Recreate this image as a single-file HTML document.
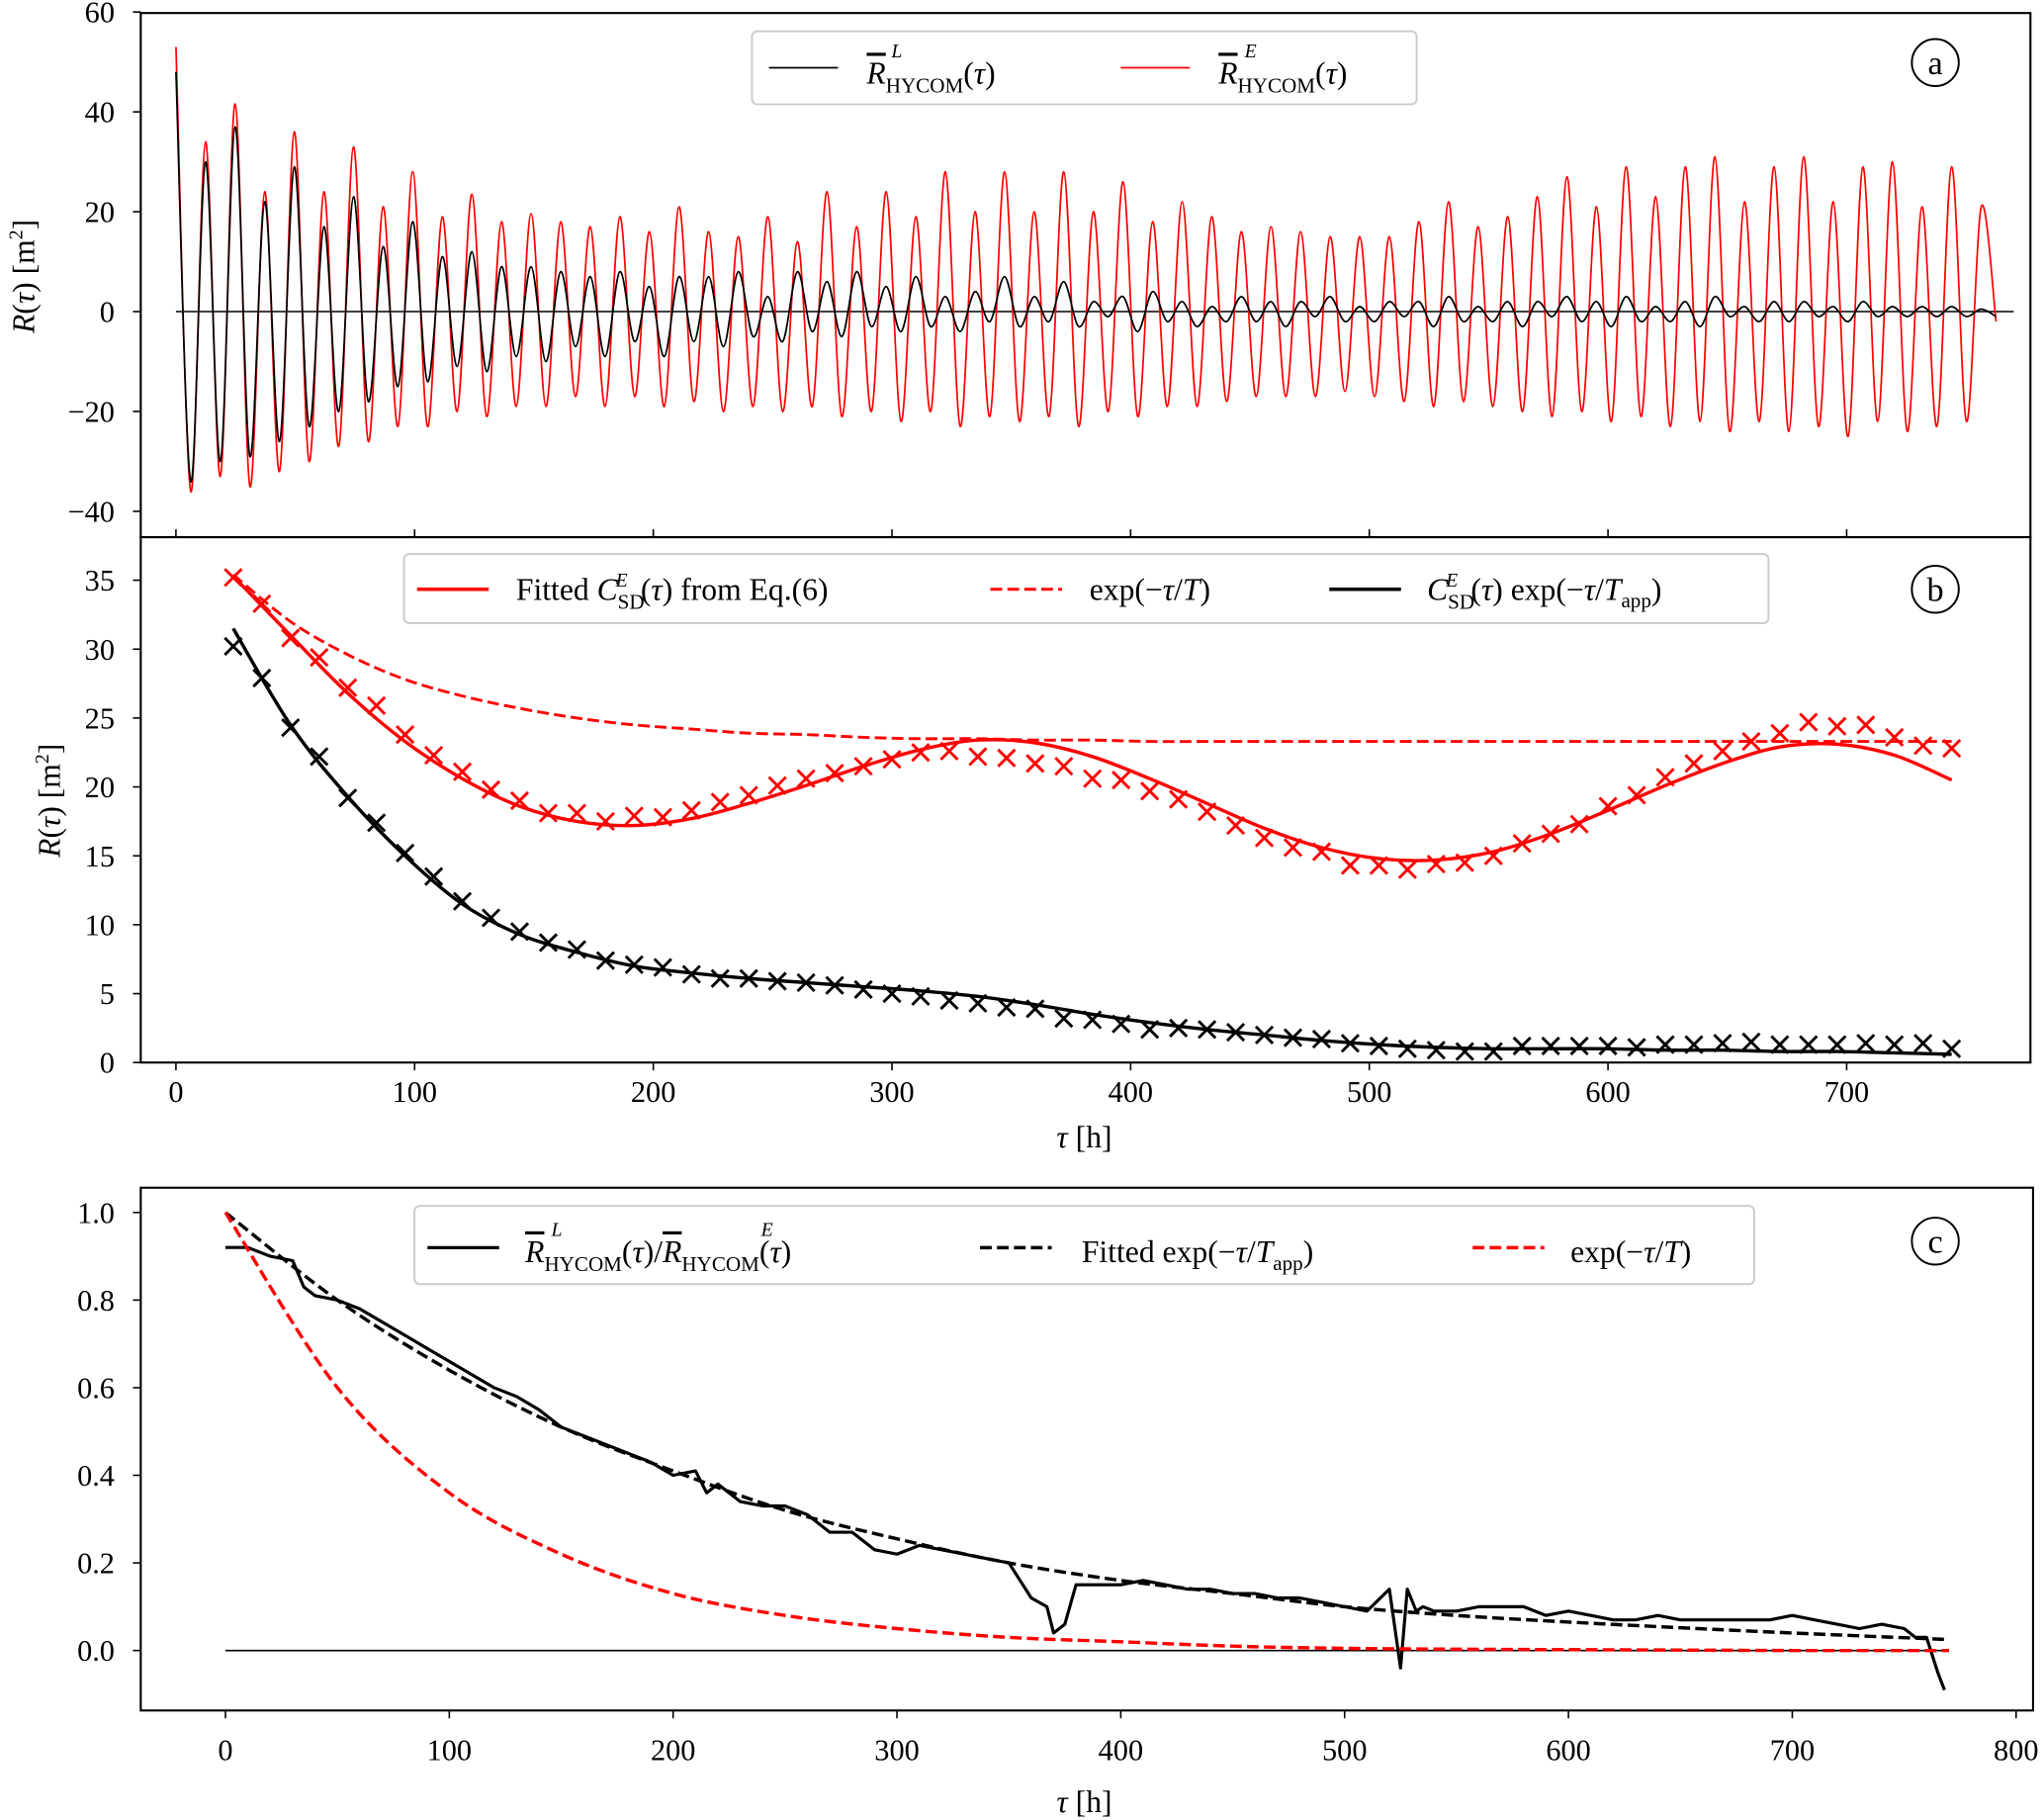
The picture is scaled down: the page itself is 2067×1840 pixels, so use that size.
<!DOCTYPE html>
<html><head><meta charset="utf-8"><style>
html,body{margin:0;padding:0;background:#fff;}
svg{display:block;}
text{font-family:"Liberation Serif",serif;fill:#000;}
</style></head><body>
<svg id="fig" width="2067" height="1840" viewBox="0 0 1568.4 1396" preserveAspectRatio="none" xmlns="http://www.w3.org/2000/svg"></svg>
<script>
// ---- Panel (a) data: alternating peak/trough values every half tidal period ----
const halfPeriod = 6.2;
const redPeaks = [53,34,41.6,24,36,24,33,21,28,19,23.5,18,19.6,18,17,19,16,21,16,15,19,14,24,17,24,19,28,20,28,20,28,20,26,18,22,19,16,17,16,15,15,15,18,22,17,19,23,27,21,29,23,29,31,22,29,31,22,29,30,21,29,21];
const redTroughs = [-36,-33,-35,-32,-30,-27,-26,-23,-23,-20,-21,-19,-19,-17,-19,-17,-19,-18,-20,-19,-20,-19,-21,-20,-22,-20,-23,-21,-22,-21,-23,-20,-21,-19,-19,-18,-17,-17,-17,-16,-17,-18,-19,-18,-19,-20,-21,-20,-22,-21,-23,-22,-24,-22,-24,-23,-25,-22,-24,-23,-22,-2];
const blackPeaks = [48,30,37,22,29,17,23,13,18,11,12,9,9,8,7,8,5,7,7,8,3,8,6,8,5,7,3,4,7,3,6,2,3,4,2,1,3,2,2,3,1,2,2,3,1,2,2,3,2,3,1,2,3,1,2,2,1,2,1,1,1,0.5];
const blackTroughs = [-34,-30,-29,-26,-23,-20,-18,-15,-14,-11,-12,-9,-10,-7,-9,-6,-9,-6,-7,-5,-6,-4,-5,-3,-4,-3,-4,-2,-3,-2,-3,-1,-4,-2,-3,-2,-2,-3,-1,-2,-2,-1,-3,-2,-2,-3,-1,-2,-3,-2,-2,-3,-1,-2,-2,-1,-2,-1,-1,-1,-1,-1];
// ---- Panel (b) data ----
const bCrossT0 = 24, bCrossStep = 12;
const redCross = [35.2,33.3,30.8,29.4,27.2,25.9,23.8,22.3,21.1,19.8,19.0,18.1,18.1,17.5,17.9,17.8,18.3,18.9,19.4,20.1,20.6,21.0,21.5,22.0,22.5,22.6,22.2,22.1,21.7,21.5,20.6,20.5,19.7,19.1,18.2,17.2,16.3,15.6,15.3,14.3,14.3,14.0,14.4,14.5,15.0,15.9,16.6,17.3,18.6,19.4,20.7,21.7,22.6,23.3,23.9,24.7,24.4,24.5,23.6,23.0,22.8];
const blackCross = [30.2,27.9,24.3,22.2,19.2,17.4,15.2,13.5,11.7,10.5,9.5,8.7,8.2,7.4,7.1,6.9,6.4,6.1,6.1,5.9,5.8,5.6,5.3,5.0,4.8,4.5,4.3,4.0,3.9,3.2,3.1,2.8,2.4,2.5,2.4,2.2,2.0,1.8,1.7,1.4,1.2,1.0,0.9,0.8,0.8,1.2,1.2,1.2,1.2,1.1,1.3,1.3,1.4,1.5,1.3,1.3,1.3,1.4,1.3,1.4,1.0];
const bFitT0 = 24, bFitStep = 24;
const redFit = [35.3,31.0,26.8,23.3,20.6,18.6,17.5,17.2,17.7,18.8,20.1,21.5,22.7,23.4,23.2,22.2,20.6,18.8,17.0,15.6,14.8,14.7,15.3,16.6,18.3,20.1,21.7,22.9,23.1,22.3,20.5];
const redExp = [35.4,32.0,29.6,27.8,26.6,25.7,25.0,24.5,24.2,23.9,23.8,23.6,23.5,23.5,23.4,23.4,23.3,23.3,23.3,23.3,23.3,23.3,23.3,23.3,23.3,23.3,23.3,23.3,23.3,23.3,23.3];
const blackFit = [31.5,24.5,19.3,15.0,11.5,9.3,8.0,7.0,6.5,6.1,5.8,5.5,5.2,4.8,4.2,3.5,2.9,2.4,2.0,1.6,1.3,1.1,1.0,1.0,1.0,0.9,0.9,0.8,0.8,0.7,0.6];
// ---- Panel (c) data ----
const ratioT = [0,10,20,30,35,40,50,60,70,80,90,100,110,120,130,140,150,160,170,180,190,200,210,215,220,230,240,250,260,270,280,290,300,310,320,330,340,350,360,367,370,375,380,390,400,410,420,430,440,450,460,470,480,490,500,510,520,525,528,532,535,540,550,560,570,580,590,600,610,620,630,640,650,660,670,680,690,700,710,720,730,740,750,755,760,765,768];
const ratioV = [0.92,0.92,0.90,0.89,0.83,0.81,0.80,0.78,0.75,0.72,0.69,0.66,0.63,0.60,0.58,0.55,0.51,0.49,0.47,0.45,0.43,0.40,0.41,0.36,0.38,0.34,0.33,0.33,0.31,0.27,0.27,0.23,0.22,0.24,0.23,0.22,0.21,0.20,0.12,0.10,0.04,0.06,0.15,0.15,0.15,0.16,0.15,0.14,0.14,0.13,0.13,0.12,0.12,0.11,0.10,0.09,0.14,-0.04,0.14,0.09,0.10,0.09,0.09,0.10,0.10,0.10,0.08,0.09,0.08,0.07,0.07,0.08,0.07,0.07,0.07,0.07,0.07,0.08,0.07,0.06,0.05,0.06,0.05,0.03,0.03,-0.05,-0.09];
const cExpT = [0,50,100,150,200,250,300,350,400,450,500,550,600,650,700,770];
const fitExpV = [1.0,0.80,0.64,0.51,0.41,0.32,0.255,0.20,0.16,0.13,0.10,0.08,0.065,0.052,0.04,0.025];
const redExpV = [1.0,0.60,0.36,0.22,0.13,0.08,0.05,0.03,0.02,0.01,0.005,0.003,0.002,0.001,0.0,0.0];
const tickAx = [0,100,200,300,400,500,600,700];
const tickAy = [60,40,20,0,-20,-40];
const tickBy = [0,5,10,15,20,25,30,35];
const tickCx = [0,100,200,300,400,500,600,700,800];
const tickCy = [0.0,0.2,0.4,0.6,0.8,1.0];

const NS="http://www.w3.org/2000/svg";
const svg=document.getElementById('fig');
function mk(tag,attrs,parent){const e=document.createElementNS(NS,tag);for(const k in attrs)e.setAttribute(k,attrs[k]);(parent||svg).appendChild(e);return e;}
const xA=t=>135+t*1.8314, yA=v=>239-v*3.83, yB=v=>815-v*10.57;
const xC=t=>173+t*1.7175, yC=v=>1266-v*336;
function spline(pts){let d='M'+pts[0][0].toFixed(2)+','+pts[0][1].toFixed(2);
 for(let i=0;i<pts.length-1;i++){const p0=pts[i-1]||pts[i],p1=pts[i],p2=pts[i+1],p3=pts[i+2]||p2;
  d+=' C'+(p1[0]+(p2[0]-p0[0])/6).toFixed(2)+','+(p1[1]+(p2[1]-p0[1])/6).toFixed(2)+' '+(p2[0]-(p3[0]-p1[0])/6).toFixed(2)+','+(p2[1]-(p3[1]-p1[1])/6).toFixed(2)+' '+p2[0].toFixed(2)+','+p2[1].toFixed(2);}
 return d;}
function txt(x,y,s,size,anchor,parent){const t=mk('text',{x:x,y:y,'font-size':size,'text-anchor':anchor||'middle'},parent);t.textContent=s;return t;}

// ===== Panel a =====
const gA=mk('g',{});


function altPts(pk,tr,xf,yf){const p=[];const n=Math.min(pk.length,tr.length);for(let k=0;k<n;k++){p.push([xf(2*k*halfPeriod),yf(pk[k])]);p.push([xf((2*k+1)*halfPeriod),yf(tr[k])]);}return p;}
mk('line',{x1:xA(0),x2:xA(770),y1:yA(0),y2:yA(0),stroke:'#000','stroke-width':1.2},gA);
const ra=mk('path',{d:spline(altPts(redPeaks,redTroughs,xA,yA)),fill:'none',stroke:'#f00','stroke-width':1.3},gA);


const ba=mk('path',{d:spline(altPts(blackPeaks,blackTroughs,xA,yA)),fill:'none',stroke:'#000','stroke-width':1.3},gA);


mk('rect',{x:108,y:10,width:1450,height:402,fill:'none',stroke:'#000','stroke-width':1.6},gA);
tickAy.forEach(v=>{mk('line',{x1:102,x2:108,y1:yA(v),y2:yA(v),stroke:'#000','stroke-width':1.2},gA);txt(88,yA(v)+8,v<0?'\u2212'+(-v):String(v),23,'end',gA);});
tickAx.forEach(t=>{mk('line',{x1:xA(t),x2:xA(t),y1:406,y2:412,stroke:'#000','stroke-width':1.2},gA);});
const ylA=mk('text',{x:0,y:0,'font-size':24,'text-anchor':'middle',transform:'translate(26,212) rotate(-90)'},gA);
ylA.innerHTML='<tspan font-style="italic">R</tspan>(<tspan font-style="italic">τ</tspan>) [m<tspan font-size="15" dy="-9">2</tspan><tspan dy="9">]</tspan>';

const legA=mk('g',{},gA);


mk('rect',{x:577,y:24,width:510,height:56,rx:4,fill:'#fff',stroke:'#ccc','stroke-width':1.5},legA);
mk('line',{x1:590,x2:643,y1:52,y2:52,stroke:'#000','stroke-width':1.3},legA);
mk('line',{x1:860,x2:913,y1:52,y2:52,stroke:'#f00','stroke-width':1.3},legA);
let t1=txt(665,64,'',24,'start',legA);t1.innerHTML='<tspan font-style="italic" text-decoration="overline">R</tspan><tspan font-size="16" dy="7">HYCOM</tspan><tspan dy="-7">(</tspan><tspan font-style="italic">τ</tspan>)';
txt(684,44,'L',15,'start',legA).setAttribute('font-style','italic');
let t2=txt(935,64,'',24,'start',legA);t2.innerHTML='<tspan font-style="italic" text-decoration="overline">R</tspan><tspan font-size="16" dy="7">HYCOM</tspan><tspan dy="-7">(</tspan><tspan font-style="italic">τ</tspan>)';
txt(955,44,'E',15,'start',legA).setAttribute('font-style','italic');
mk('circle',{cx:1485,cy:48,r:18,fill:'none',stroke:'#000','stroke-width':1.5},gA);txt(1485,57,'a',26,'middle',gA);

// ===== Panel b =====
const gB=mk('g',{});


function cross(x,y,c,g){const s=6.5;mk('path',{d:`M${x-s},${y-s}L${x+s},${y+s}M${x-s},${y+s}L${x+s},${y-s}`,stroke:c,'stroke-width':2.2},g);}
const nC=61;
const rc=mk('g',{},gB);
const bc=mk('g',{},gB);
redCross.slice(0,nC).forEach((v,k)=>cross(xA(bCrossT0+k*bCrossStep),yB(v),'#f00',rc));
blackCross.slice(0,nC).forEach((v,k)=>cross(xA(bCrossT0+k*bCrossStep),yB(v),'#000',bc));
function fitPts(arr){return arr.map((v,k)=>[xA(bFitT0+k*bFitStep),yB(v)]);}
const p1=mk('path',{d:spline(fitPts(redFit)),fill:'none',stroke:'#f00','stroke-width':2.6},gB);

const p2=mk('path',{d:spline(fitPts(redExp)),fill:'none',stroke:'#f00','stroke-width':2.2,'stroke-dasharray':'9,4'},gB);

const p3=mk('path',{d:spline(fitPts(blackFit)),fill:'none',stroke:'#000','stroke-width':2.6},gB);

mk('rect',{x:108,y:412,width:1450,height:403,fill:'none',stroke:'#000','stroke-width':1.6},gB);
tickBy.forEach(v=>{mk('line',{x1:102,x2:108,y1:yB(v),y2:yB(v),stroke:'#000','stroke-width':1.2},gB);txt(88,yB(v)+8,String(v),23,'end',gB);});
tickAx.forEach(t=>{mk('line',{x1:xA(t),x2:xA(t),y1:815,y2:821,stroke:'#000','stroke-width':1.2},gB);txt(xA(t),845,String(t),23,'middle',gB);});
const xlB=txt(832,880,'',24,'middle',gB);xlB.innerHTML='<tspan font-style="italic">τ</tspan> [h]';

const ylB=mk('text',{x:0,y:0,'font-size':24,'text-anchor':'middle',transform:'translate(46,614) rotate(-90)'},gB);
ylB.innerHTML='<tspan font-style="italic">R</tspan>(<tspan font-style="italic">τ</tspan>) [m<tspan font-size="15" dy="-9">2</tspan><tspan dy="9">]</tspan>';

const legB=mk('g',{},gB);
mk('rect',{x:310,y:425,width:1047,height:53,rx:4,fill:'#fff',stroke:'#ccc','stroke-width':1.5},legB);
mk('line',{x1:320,x2:375,y1:452,y2:452,stroke:'#f00','stroke-width':2.6},legB);
mk('line',{x1:760,x2:815,y1:452,y2:452,stroke:'#f00','stroke-width':2.2,'stroke-dasharray':'9,4'},legB);
mk('line',{x1:1020,x2:1075,y1:452,y2:452,stroke:'#000','stroke-width':2.6},legB);
let lb1=txt(396,460,'',24,'start',legB);lb1.innerHTML='Fitted <tspan font-style="italic">C</tspan><tspan font-size="16" dy="7">SD</tspan><tspan font-size="15" dy="-17" font-style="italic" dx="-22">E</tspan><tspan dy="10" dx="10">(</tspan><tspan font-style="italic">τ</tspan>) from Eq.(6)';
let lb2=txt(836,460,'',24,'start',legB);lb2.innerHTML='exp(−<tspan font-style="italic">τ</tspan>/<tspan font-style="italic">T</tspan>)';
let lb3=txt(1095,460,'',24,'start',legB);lb3.innerHTML='<tspan font-style="italic">C</tspan><tspan font-size="16" dy="7">SD</tspan><tspan font-size="15" dy="-17" font-style="italic" dx="-22">E</tspan><tspan dy="10" dx="10">(</tspan><tspan font-style="italic">τ</tspan>) exp(−<tspan font-style="italic">τ</tspan>/<tspan font-style="italic">T</tspan><tspan font-size="16" dy="6">app</tspan><tspan dy="-6">)</tspan>';
mk('circle',{cx:1485,cy:452,r:18,fill:'none',stroke:'#000','stroke-width':1.5},gB);txt(1485,461,'b',26,'middle',gB);

// ===== Panel c =====
const gC=mk('g',{});


mk('line',{x1:xC(0),x2:xC(770),y1:yC(0),y2:yC(0),stroke:'#000','stroke-width':1.2},gC);
const pr=mk('polyline',{points:ratioT.map((t,i)=>xC(t).toFixed(2)+','+yC(ratioV[i]).toFixed(2)).join(' '),fill:'none',stroke:'#000','stroke-width':2.4,'stroke-linejoin':'round'},gC);

const pf=mk('path',{d:spline(cExpT.map((t,i)=>[xC(t),yC(fitExpV[i])])),fill:'none',stroke:'#000','stroke-width':2.6,'stroke-dasharray':'9,4'},gC);

const pe=mk('path',{d:spline(cExpT.map((t,i)=>[xC(t),yC(redExpV[i])])),fill:'none',stroke:'#f00','stroke-width':2.6,'stroke-dasharray':'9,4'},gC);

mk('rect',{x:108,y:911,width:1452,height:401,fill:'none',stroke:'#000','stroke-width':1.6},gC);
tickCy.forEach(v=>{mk('line',{x1:102,x2:108,y1:yC(v),y2:yC(v),stroke:'#000','stroke-width':1.2},gC);txt(88,yC(v)+8,v.toFixed(1),23,'end',gC);});
tickCx.forEach(t=>{mk('line',{x1:xC(t),x2:xC(t),y1:1312,y2:1318,stroke:'#000','stroke-width':1.2},gC);txt(xC(t),1350,String(t),23,'middle',gC);});
const xlC=txt(832,1390,'',24,'middle',gC);xlC.innerHTML='<tspan font-style="italic">τ</tspan> [h]';

const legC=mk('g',{},gC);
mk('rect',{x:318,y:925,width:1028,height:60,rx:4,fill:'#fff',stroke:'#ccc','stroke-width':1.5},legC);
mk('line',{x1:328,x2:383,y1:957,y2:957,stroke:'#000','stroke-width':2.4},legC);
mk('line',{x1:752,x2:807,y1:957,y2:957,stroke:'#000','stroke-width':2.6,'stroke-dasharray':'9,4'},legC);
mk('line',{x1:1130,x2:1185,y1:957,y2:957,stroke:'#f00','stroke-width':2.6,'stroke-dasharray':'9,4'},legC);
let lc1=txt(403,968,'',24,'start',legC);lc1.innerHTML='<tspan font-style="italic" text-decoration="overline">R</tspan><tspan font-size="16" dy="7">HYCOM</tspan><tspan dy="-7">(</tspan><tspan font-style="italic">τ</tspan>)/<tspan font-style="italic" text-decoration="overline">R</tspan><tspan font-size="16" dy="7">HYCOM</tspan><tspan dy="-7">(</tspan><tspan font-style="italic">τ</tspan>)';
txt(423,948,'L',15,'start',legC).setAttribute('font-style','italic');
txt(584,948,'E',15,'start',legC).setAttribute('font-style','italic');
let lc2=txt(830,968,'',24,'start',legC);lc2.innerHTML='Fitted exp(−<tspan font-style="italic">τ</tspan>/<tspan font-style="italic">T</tspan><tspan font-size="16" dy="6">app</tspan><tspan dy="-6">)</tspan>';
let lc3=txt(1205,968,'',24,'start',legC);lc3.innerHTML='exp(−<tspan font-style="italic">τ</tspan>/<tspan font-style="italic">T</tspan>)';
mk('circle',{cx:1485,cy:952,r:18,fill:'none',stroke:'#000','stroke-width':1.5},gC);txt(1485,961,'c',26,'middle',gC);
</script>
</body></html>
